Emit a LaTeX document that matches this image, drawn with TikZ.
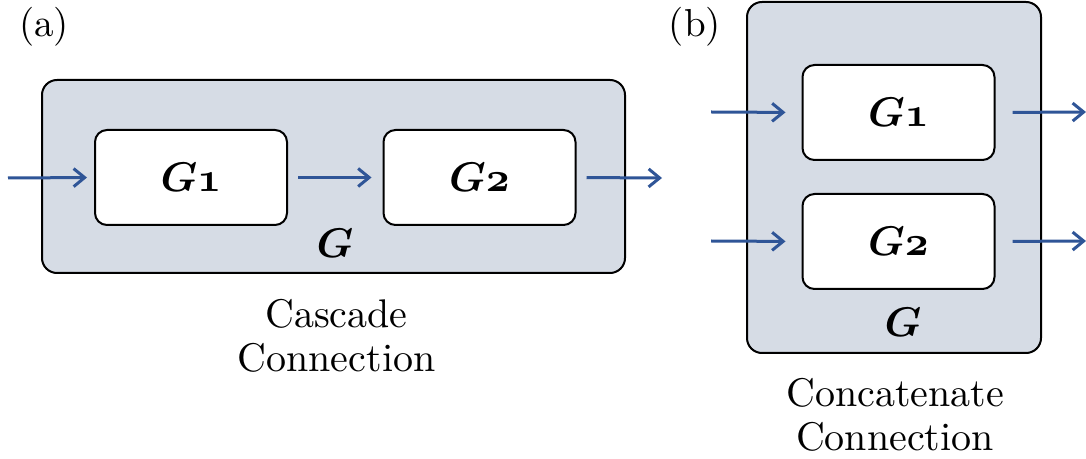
\documentclass[tikz,border=0pt]{standalone}
\usepackage{amsmath,bm}
\usetikzlibrary{arrows.meta}
\definecolor{boxfill}{HTML}{D6DCE5}
\definecolor{arrowblue}{HTML}{2F5597}
\tikzset{
  outerbox/.style={draw=black, line width=1pt, fill=boxfill, rounded corners=7.5pt, inner sep=0pt},
  innerbox/.style={draw=black, line width=1pt, fill=white, rounded corners=6pt, inner sep=0pt,
    minimum width=96pt, minimum height=47.5pt, font=\fontsize{22.5}{26}\selectfont},
  flow/.style={draw=arrowblue, line width=1.5pt, -{Straight Barb[length=5.5pt,width=9pt,line width=1.5pt]}},
  glabel/.style={inner sep=0pt, font=\fontsize{22.5}{26}\selectfont},
  caption/.style={align=center, inner sep=0pt, scale=2, font=\fontsize{10}{11}\selectfont},
  tag/.style={inner sep=0pt, scale=1.95, font=\fontsize{10}{12}\selectfont}
}
\newcommand{\Gsub}[1]{$\bm{G\mathnormal{#1}}$}
\begin{document}
\begin{tikzpicture}[x=0.5pt, y=-0.5pt]
\useasboundingbox (0,0) rectangle (1086,459);
% ---------- (a) cascade ----------
\node[tag] (taga) at (44,26.5) {(a)};
\node[outerbox, minimum width=291.5pt, minimum height=96.5pt] (outa) at (333.5,176.5) {};
\node[innerbox] (g1a) at (191,177.5) {\Gsub{1}};
\node[innerbox] (g2a) at (479.5,177.5) {\Gsub{2}};
\node[glabel] (ga) at (335,243) {$\bm{G}$};
\coordinate (ina) at (8,178);
\coordinate (outpa) at (662,178);
\draw[flow, shorten >=3.5pt] (ina) -- (g1a.west);
\draw[flow, shorten <=5pt, shorten >=5.5pt] (g1a.east) -- (g2a.west);
\draw[flow, shorten <=5pt] (g2a.east) -- (outpa);
\node[caption] (capa) at (336.5,336) {Cascade\\Connection};
% ---------- (b) concatenate ----------
\node[tag] (tagb) at (695,26.5) {(b)};
\node[outerbox, minimum width=147pt, minimum height=175.5pt] (outb) at (894,177.5) {};
\node[innerbox] (g1b) at (898.5,112.5) {\Gsub{1}};
\node[innerbox] (g2b) at (898.5,241.5) {\Gsub{2}};
\node[glabel] (gb) at (903,322) {$\bm{G}$};
\coordinate (in1b) at (711,112);
\coordinate (in2b) at (711,241);
\coordinate (out1b) at (1086,112);
\coordinate (out2b) at (1086,241);
\draw[flow, shorten >=8pt] (in1b) -- (g1b.west);
\draw[flow, shorten >=8pt] (in2b) -- (g2b.west);
\draw[flow, shorten <=8.5pt] (g1b.east) -- (out1b);
\draw[flow, shorten <=8.5pt] (g2b.east) -- (out2b);
\node[caption] (capb) at (895,415) {Concatenate\\Connection};
\end{tikzpicture}
\end{document}
